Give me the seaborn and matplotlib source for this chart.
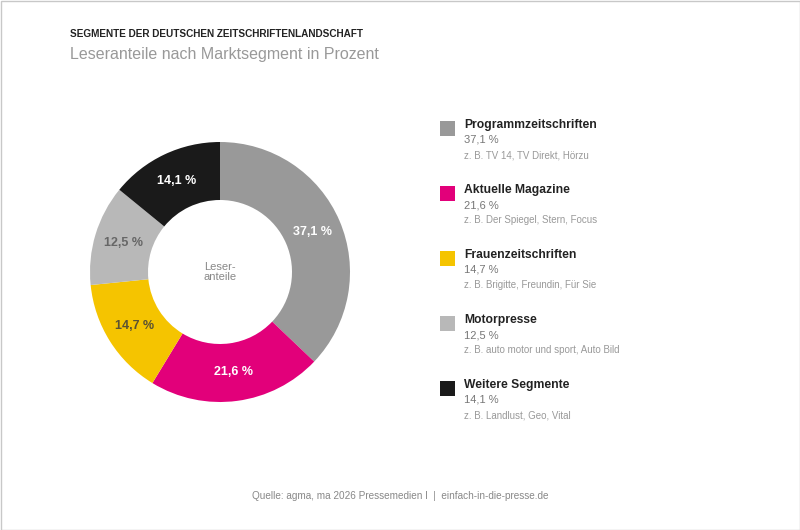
import matplotlib
matplotlib.use("Agg")
import matplotlib.pyplot as plt
import seaborn as sns
import numpy as np
from matplotlib.patches import Rectangle

sns.set_theme(style="white")
plt.rcParams['font.family'] = ['Liberation Sans', 'DejaVu Sans']

categories = ["Programmzeitschriften", "Aktuelle Magazine", "Frauenzeitschriften", "Motorpresse", "Weitere Segmente"]
values = [37.1, 21.6, 14.7, 12.5, 14.1]
value_labels = ["37,1 %", "21,6 %", "14,7 %", "12,5 %", "14,1 %"]
examples = ["z. B. TV 14, TV Direkt, Hörzu", "z. B. Der Spiegel, Stern, Focus",
            "z. B. Brigitte, Freundin, Für Sie", "z. B. auto motor und sport, Auto Bild",
            "z. B. Landlust, Geo, Vital"]
colors = ["#999999", "#E2007A", "#F5C400", "#B8B8B8", "#1A1A1A"]
label_colors = ["white", "white", "#5a5233", "#666666", "white"]
sns.set_palette(colors)

W, H = 800, 530
fig = plt.figure(figsize=(8, 5.3), dpi=100)
fig.patch.set_facecolor("white")

def fx(x): return x / W
def fy(y): return 1 - y / H

# border
fig.patches.append(Rectangle((0.5/W, 0.5/H), 1 - 1/W, 1 - 1/H, transform=fig.transFigure,
                             fill=False, edgecolor="#c8c8c8", linewidth=1))

# pie
cx, cy, R = 220, 272, 130
ax = fig.add_axes([fx(cx - R), fy(cy + R), 2 * R / W, 2 * R / H])
wedges, _ = ax.pie(values, colors=sns.color_palette(colors), startangle=90, counterclock=False,
                   radius=1, wedgeprops=dict(width=58 / 130, linewidth=0))
ax.set_xlim(-1, 1); ax.set_ylim(-1, 1); ax.set_aspect("equal"); ax.axis("off")
start = 90
rl = (130 + 72) / 2 / 130
for v, lab, lc in zip(values, value_labels, label_colors):
    mid = start - v / 100 * 360 / 2
    start -= v / 100 * 360
    ax.text(rl * np.cos(np.radians(mid)), rl * np.sin(np.radians(mid)), lab, ha="center", va="center",
            color=lc, fontsize=9, fontweight="bold")
ax.text(0, 0, "Leser-\nanteile", ha="center", va="center", color="#888888", fontsize=8, linespacing=0.95)

# titles
fig.text(fx(70), fy(34), "SEGMENTE DER DEUTSCHEN ZEITSCHRIFTENLANDSCHAFT", fontsize=7.2, fontweight="bold",
         color="#222222", va="center", ha="left")
fig.text(fx(70), fy(55), "Leseranteile nach Marktsegment in Prozent", fontsize=11.5, color="#999999",
         va="center", ha="left")

# legend
for i, (cat, vl, ex, c) in enumerate(zip(categories, value_labels, examples, colors)):
    y0 = 128 + i * 65
    fig.patches.append(Rectangle((fx(440), fy(y0 + 7.5)), 15 / W, 15 / H, transform=fig.transFigure,
                                 facecolor=c, edgecolor="none"))
    fig.text(fx(464), fy(y0 - 3), cat, fontsize=8.7, fontweight="bold", color="#222222", va="center", ha="left")
    fig.text(fx(464), fy(y0 + 12), vl, fontsize=8, color="#777777", va="center", ha="left")
    fig.text(fx(464), fy(y0 + 27), ex, fontsize=7, color="#999999", va="center", ha="left")

fig.text(0.5, fy(496), "Quelle: agma, ma 2026 Pressemedien I  |  einfach-in-die-presse.de", fontsize=7.2,
         color="#888888", ha="center", va="center")

fig.savefig("out.png", dpi=100, facecolor="white")
